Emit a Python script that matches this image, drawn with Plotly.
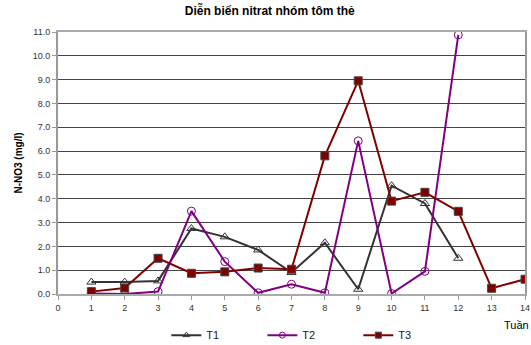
import plotly.graph_objects as go

weeks = list(range(1, 15))
t1 = [0.5, 0.5, 0.55, 2.75, 2.4, 1.85, 0.9, 2.15, 0.2, 4.55, 3.8, 1.5]
t2 = [0.02, 0.0, 0.1, 3.48, 1.36, 0.05, 0.41, 0.05, 6.43, 0.02, 0.95, 10.88]
t3 = [0.1, 0.25, 1.5, 0.87, 0.93, 1.09, 1.04, 5.8, 8.95, 3.9, 4.27, 3.47, 0.24, 0.62]

x_ticks = list(range(0, 15))
y_ticks = [i * 1.0 for i in range(0, 12)]
y_labels = [f"{v:.1f}" for v in y_ticks]

series = [
    ("T1", t1, "#333333", "triangle-up-open"),
    ("T2", t2, "#800080", "circle-open"),
    ("T3", t3, "#800000", "square"),
]

fig = go.Figure()
for name, vals, color, symbol in series:
    # data line with full-size markers
    fig.add_trace(go.Scatter(
        x=weeks[:len(vals)], y=vals, name=name, legendgroup=name, showlegend=False,
        mode="lines+markers", line=dict(color=color, width=2),
        marker=dict(symbol=symbol, size=8, color=color, line=dict(width=1)),
    ))
    # compact legend key
    fig.add_trace(go.Scatter(
        x=[None], y=[None], name=name, legendgroup=name, showlegend=True,
        mode="lines+markers", line=dict(color=color, width=2),
        marker=dict(symbol=symbol, size=6, color=color, line=dict(width=1)),
    ))

fig.update_layout(
    width=531, height=345,
    margin=dict(l=58, r=6, t=32, b=51, autoexpand=False),
    paper_bgcolor="white", plot_bgcolor="white",
    font=dict(family="Arial, Liberation Sans, sans-serif", size=9, color="#333333"),
    title=dict(text="<b>Diễn biến nitrat nhóm tôm thẻ</b>", x=0.508, xanchor="center",
               y=0.968, yanchor="middle", font=dict(size=12, color="#000000")),
    showlegend=True,
    legend=dict(orientation="h", x=0.232, xanchor="left", y=-0.157, yanchor="middle",
                entrywidth=51, entrywidthmode="pixels", itemwidth=30,
                font=dict(size=11, color="#222222"), bgcolor="rgba(0,0,0,0)"),
)
fig.update_xaxes(
    range=[0, 14], tickmode="array", tickvals=x_ticks, ticktext=[str(v) for v in x_ticks],
    showgrid=False, zeroline=False, showline=True, linecolor="#aaaaaa", linewidth=1.5,
    mirror=True, ticks="outside", ticklen=4, tickcolor="#999999",
    tickfont=dict(size=9, color="#333333"),
)
fig.update_yaxes(
    range=[0, 11], tickmode="array", tickvals=y_ticks, ticktext=y_labels,
    showgrid=True, gridcolor="#444444", gridwidth=1, zeroline=False,
    showline=True, linecolor="#999999", linewidth=2, mirror=True,
    ticks="outside", ticklen=4, tickcolor="#999999",
    tickfont=dict(size=9, color="#333333"),
    title=dict(text="<b>N-NO3 (mg/l)</b>", font=dict(size=10, color="#000000"), standoff=8),
)
fig.add_annotation(text="Tuần", xref="paper", yref="paper", x=1.013, y=-0.118,
                   xanchor="right", yanchor="middle", showarrow=False,
                   font=dict(size=11, color="#000000"))

fig.write_html("out.html")
